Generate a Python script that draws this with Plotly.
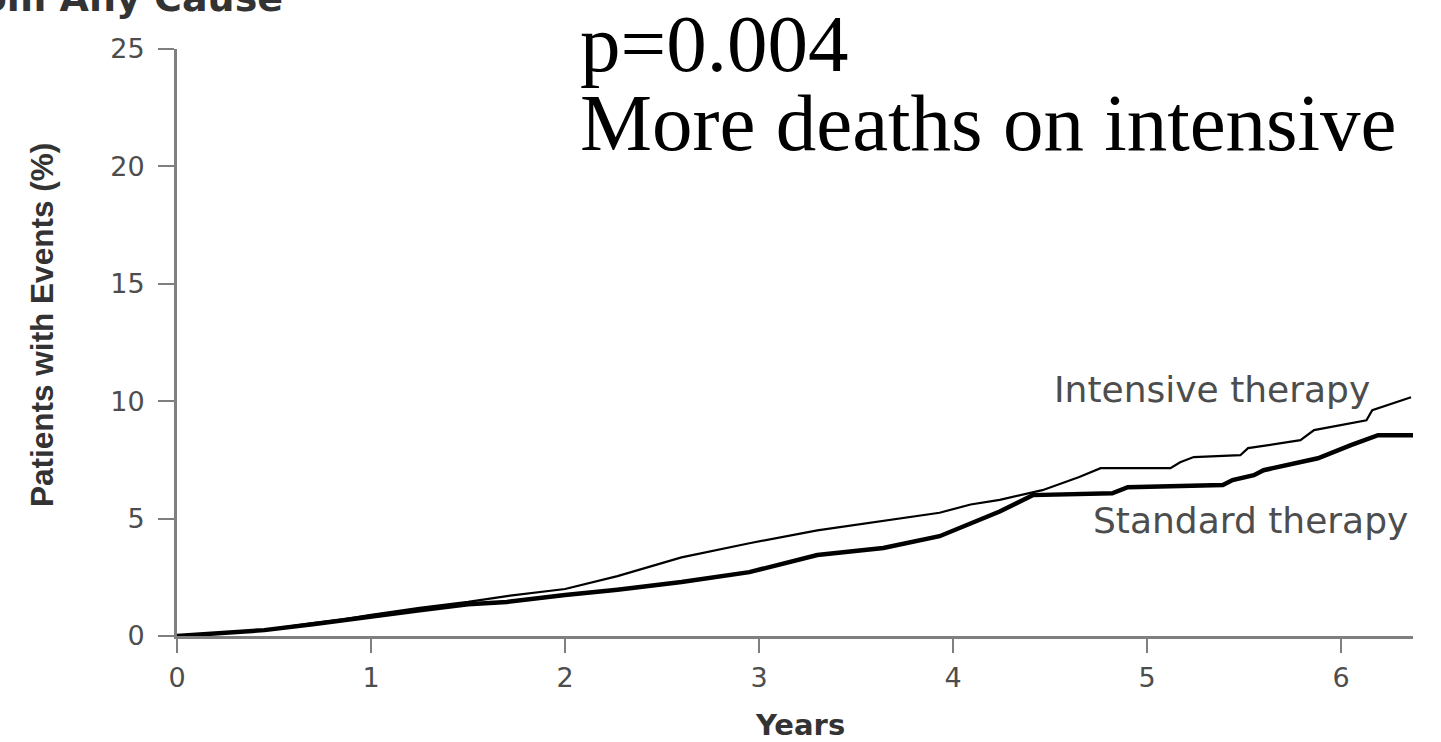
import plotly.graph_objects as go

# ---- data ----
intensive_years = [0.00, 0.20, 0.45, 0.70, 0.85, 1.00, 1.25, 1.50, 1.70, 2.00, 2.27, 2.60,
                   2.95, 3.30, 3.65, 3.93, 4.09, 4.24, 4.46, 4.65, 4.76, 5.12, 5.17, 5.24,
                   5.48, 5.52, 5.79, 5.86, 6.13, 6.16, 6.36]
intensive_pct = [0.00, 0.10, 0.25, 0.55, 0.70, 0.90, 1.20, 1.45, 1.70, 2.00, 2.55, 3.35,
                 3.95, 4.50, 4.90, 5.25, 5.60, 5.80, 6.21, 6.77, 7.15, 7.15, 7.40, 7.62,
                 7.70, 8.00, 8.34, 8.77, 9.19, 9.62, 10.17]

standard_years = [0.00, 0.20, 0.45, 0.70, 1.00, 1.25, 1.50, 1.70, 2.00, 2.27, 2.60, 2.95,
                  3.30, 3.64, 3.93, 4.09, 4.24, 4.41, 4.82, 4.90, 5.39, 5.44, 5.55, 5.60,
                  5.88, 6.05, 6.19, 6.37]
standard_pct = [0.00, 0.10, 0.25, 0.50, 0.85, 1.10, 1.35, 1.45, 1.75, 1.97, 2.30, 2.72,
                3.45, 3.75, 4.25, 4.80, 5.30, 6.00, 6.08, 6.34, 6.43, 6.64, 6.85, 7.06,
                7.57, 8.13, 8.55, 8.55]

x_ticks = [0, 1, 2, 3, 4, 5, 6]
y_ticks = [0, 5, 10, 15, 20, 25]

AXIS_GREY = "#7f7f7f"
LABEL_GREY = "#4d4d4d"

fig = go.Figure()
fig.add_trace(go.Scatter(x=standard_years, y=standard_pct, mode="lines",
                         line=dict(color="black", width=4.5), name="Standard therapy",
                         showlegend=False))
fig.add_trace(go.Scatter(x=intensive_years, y=intensive_pct, mode="lines",
                         line=dict(color="black", width=2.2), name="Intensive therapy",
                         showlegend=False))

fig.update_layout(
    width=1441, height=742,
    margin=dict(l=177, r=28, t=49, b=106),
    paper_bgcolor="white", plot_bgcolor="white",
    showlegend=False,
)
fig.update_xaxes(range=[0, 6.37], tickvals=x_ticks, ticktext=[str(v) for v in x_ticks],
                 showgrid=False, zeroline=False, showline=True, linecolor=AXIS_GREY,
                 linewidth=3, ticks="outside", ticklen=14, tickwidth=2, tickcolor=AXIS_GREY,
                 tickfont=dict(family="DejaVu Sans", size=27, color=LABEL_GREY),
                 ticklabelstandoff=2)
fig.update_yaxes(range=[0, 25], tickvals=y_ticks, ticktext=[str(v) for v in y_ticks],
                 showgrid=False, zeroline=False, showline=True, linecolor=AXIS_GREY,
                 linewidth=3, ticks="outside", ticklen=16, tickwidth=2, tickcolor=AXIS_GREY,
                 tickfont=dict(family="DejaVu Sans", size=27, color=LABEL_GREY),
                 ticklabelstandoff=8)

# axis titles
fig.add_annotation(text="<b>Years</b>", xref="paper", yref="paper", x=0.504, y=-0.152,
                   xanchor="center", yanchor="middle", showarrow=False,
                   font=dict(family="DejaVu Sans", size=29, color="#333333"))
fig.add_annotation(text="<b>Patients with Events (%)</b>", xref="paper", yref="paper",
                   x=-0.1092, y=0.53, textangle=-90, xanchor="center", yanchor="middle",
                   showarrow=False,
                   font=dict(family="Liberation Sans", size=31.5, color="#333333"))

# cropped panel title at top-left
fig.add_annotation(text="<b>Death from Any Cause</b>", xref="paper", yref="paper",
                   x=0.0874, y=1.087, xanchor="right", yanchor="middle", showarrow=False,
                   font=dict(family="DejaVu Sans", size=38, color="#333333"))

# curve labels
fig.add_annotation(text="Intensive therapy", xref="x", yref="y", x=6.16, y=10.5,
                   xanchor="right", yanchor="middle", showarrow=False,
                   font=dict(family="DejaVu Sans", size=36, color=LABEL_GREY))
fig.add_annotation(text="Standard therapy", xref="x", yref="y", x=6.356, y=4.9,
                   xanchor="right", yanchor="middle", showarrow=False,
                   font=dict(family="DejaVu Sans", size=36, color=LABEL_GREY))

# big overlay text
fig.add_annotation(text="p=0.004", xref="paper", yref="paper", x=0.3244, y=1.0085,
                   xanchor="left", yanchor="middle", showarrow=False,
                   font=dict(family="Liberation Serif", size=81, color="black"))
fig.add_annotation(text="More deaths on intensive", xref="paper", yref="paper",
                   x=0.3244, y=0.8735, xanchor="left", yanchor="middle", showarrow=False,
                   font=dict(family="Liberation Serif", size=81, color="black"))

fig.write_html("out.html")
